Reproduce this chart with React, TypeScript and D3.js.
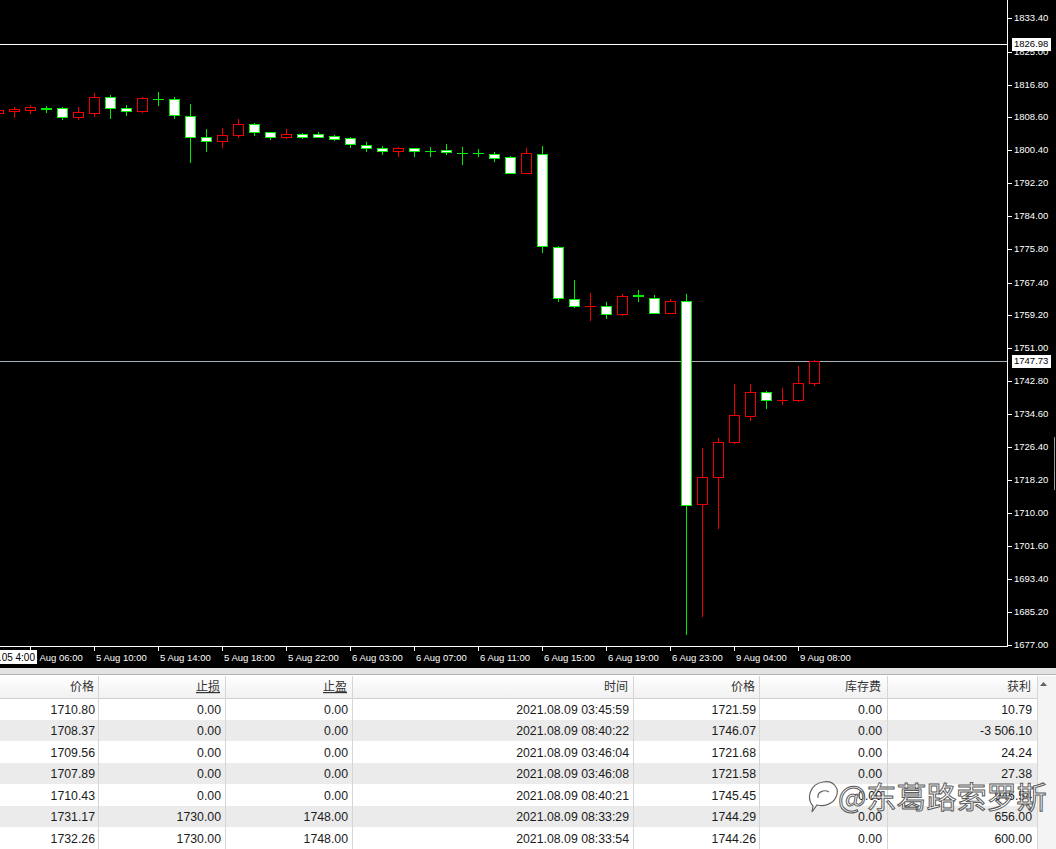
import React from 'react';
import * as d3 from 'd3';

// ---- Candle data (H1 bars, 5 Aug 2021 04:00 .. 9 Aug 2021 09:00) ----
const opens = [1809.7, 1810.1, 1810.4, 1810.85, 1810.9, 1808.6, 1809.6, 1813.6, 1810.9, 1810.2, 1813.2, 1813.1, 1809.0, 1803.6, 1802.7, 1804.2, 1807.0, 1804.9, 1803.6, 1804.5, 1804.5, 1804.0, 1803.4, 1801.6, 1800.9, 1800.2, 1800.9, 1800.3, 1800.5, 1799.85, 1799.8, 1799.6, 1798.7, 1794.8, 1799.6, 1776.4, 1763.4, 1761.6, 1761.6, 1759.5, 1764.2, 1763.5, 1759.9, 1762.9, 1712.1, 1718.8, 1727.6, 1734.2, 1740.0, 1738.0, 1738.1, 1742.3];
const highs = [1810.6, 1811.2, 1811.7, 1811.5, 1811.2, 1811.2, 1814.8, 1814.2, 1811.7, 1813.6, 1814.9, 1813.8, 1811.9, 1805.6, 1805.9, 1808.1, 1807.3, 1805.0, 1805.6, 1804.8, 1805.0, 1804.2, 1803.8, 1802.5, 1801.5, 1801.3, 1801.0, 1801.1, 1802.0, 1801.3, 1800.6, 1799.9, 1799.0, 1801.0, 1801.5, 1776.5, 1768.0, 1764.9, 1762.6, 1764.6, 1765.6, 1764.3, 1763.2, 1764.6, 1726.1, 1728.6, 1742.1, 1742.1, 1740.4, 1741.0, 1746.6, 1748.0];
const lows = [1809.5, 1808.7, 1809.7, 1810.0, 1808.3, 1808.3, 1809.0, 1808.4, 1809.2, 1809.9, 1811.7, 1808.4, 1797.6, 1800.3, 1801.3, 1803.6, 1804.2, 1803.1, 1803.4, 1803.4, 1803.6, 1803.0, 1801.3, 1800.1, 1799.6, 1799.1, 1799.1, 1799.0, 1799.6, 1797.1, 1799.0, 1797.8, 1794.7, 1794.7, 1775.1, 1762.9, 1761.4, 1758.1, 1758.5, 1759.3, 1762.9, 1759.7, 1759.7, 1679.8, 1684.2, 1706.1, 1727.5, 1733.1, 1736.0, 1737.1, 1737.9, 1741.9];
const closes = [1810.4, 1810.6, 1811.1, 1810.8, 1808.6, 1809.9, 1813.8, 1810.9, 1810.3, 1813.4, 1813.15, 1809.2, 1803.6, 1802.8, 1804.2, 1807.0, 1804.9, 1803.6, 1804.5, 1803.8, 1803.8, 1803.3, 1802.0, 1800.9, 1800.3, 1800.9, 1800.3, 1800.25, 1799.9, 1799.8, 1799.75, 1798.6, 1794.8, 1799.8, 1776.5, 1763.5, 1761.6, 1761.65, 1759.6, 1764.1, 1764.15, 1759.9, 1762.9, 1712.0, 1718.8, 1727.6, 1734.4, 1740.0, 1738.1, 1738.15, 1742.3, 1747.73];

// ---- Axis labels ----
const xTickIndex = [2, 6, 10, 14, 18, 22, 26, 30, 34, 38, 42, 46, 50];
const xTickLabels = ['5 Aug 06:00', '5 Aug 10:00', '5 Aug 14:00', '5 Aug 18:00', '5 Aug 22:00', '6 Aug 03:00', '6 Aug 07:00', '6 Aug 11:00', '6 Aug 15:00', '6 Aug 19:00', '6 Aug 23:00', '9 Aug 04:00', '9 Aug 08:00'];
const firstBarLabel = '2021.08.05 4:00';
const yTickValues = [1833.40, 1825.00, 1816.80, 1808.60, 1800.40, 1792.20, 1784.00, 1775.80, 1767.40, 1759.20, 1751.00, 1742.80, 1734.60, 1726.40, 1718.20, 1710.00, 1701.60, 1693.40, 1685.20, 1677.00];
const levelLine = 1826.98;
const bidLine = 1747.73;

// ---- Table data ----
const tableHeaders = ['价格', '止损', '止盈', '时间', '价格', '库存费', '获利'];
const openPrices = ['1710.80', '1708.37', '1709.56', '1707.89', '1710.43', '1731.17', '1732.26'];
const stopLosses = ['0.00', '0.00', '0.00', '0.00', '0.00', '1730.00', '1730.00'];
const takeProfits = ['0.00', '0.00', '0.00', '0.00', '0.00', '1748.00', '1748.00'];
const closeTimes = ['2021.08.09 03:45:59', '2021.08.09 08:40:22', '2021.08.09 03:46:04', '2021.08.09 03:46:08', '2021.08.09 08:40:21', '2021.08.09 08:33:29', '2021.08.09 08:33:54'];
const closePrices = ['1721.59', '1746.07', '1721.68', '1721.58', '1745.45', '1744.29', '1744.26'];
const swaps = ['0.00', '0.00', '0.00', '0.00', '0.00', '0.00', '0.00'];
const profits = ['10.79', '-3 506.10', '24.24', '27.38', '945.54', '656.00', '600.00'];
const watermark = '@东葛路索罗斯';

const W = 1056;
const H = 849;
const AXIS_X = 1007;
const AXIS_Y = 646;
const BULL = '#f00000';
const BEAR = '#00ee00';
const AXIS_FONT = '"Liberation Sans", Arial, sans-serif';
const TABLE_FONT = '"Liberation Sans", "Noto Sans CJK SC", sans-serif';

export default function App() {
  const yScale = d3.scaleLinear().domain([1677, 1833.4]).range([645, 18]);
  const xScale = d3.scaleLinear().domain([0, 51]).range([-2, 814]);

  const candles = opens.map((o, i) => {
    const c = closes[i];
    const cx = Math.round(xScale(i));
    const yH = Math.round(yScale(highs[i]));
    const yL = Math.round(yScale(lows[i]));
    const yTop = Math.round(yScale(Math.max(o, c)));
    const yBot = Math.round(yScale(Math.min(o, c)));
    const bear = c < o;
    const color = bear ? BEAR : BULL;
    const bodyH = yBot - yTop;
    return (
      <g key={i}>
        <line x1={cx + 0.5} x2={cx + 0.5} y1={yH} y2={yL + 1} stroke={color} strokeWidth={1} />
        {bodyH < 1 ? (
          <line x1={cx - 5} x2={cx + 6} y1={yTop + 0.5} y2={yTop + 0.5} stroke={color} strokeWidth={1} />
        ) : (
          <rect x={cx - 4.5} y={yTop + 0.5} width={10} height={bodyH} fill={bear ? '#ffffff' : '#000000'} stroke={color} strokeWidth={1} />
        )}
      </g>
    );
  });

  const colBorders = [98, 225, 352, 633, 759, 887, 1037];
  const colRight = [95, 221, 348, 629, 756, 882, 1032];
  const headTop = 675;
  const headBot = 698;
  const rowH = 21.5;
  const columns = [openPrices, stopLosses, takeProfits, closeTimes, closePrices, swaps, profits];

  return (
    <div style={{ position: 'absolute', left: 0, top: 0 }}>
      <svg width={W} height={H} style={{ display: 'block' }} shapeRendering="crispEdges">
        <defs>
          <clipPath id="firstBox">
            <rect x={0} y={650} width={36} height={14} />
          </clipPath>
          <linearGradient id="hdr" x1="0" y1="0" x2="0" y2="1">
            <stop offset="0" stopColor="#ffffff" />
            <stop offset="1" stopColor="#f1f1f1" />
          </linearGradient>
        </defs>

        {/* chart background */}
        <rect x={0} y={0} width={W} height={668} fill="#000000" />

        {/* horizontal level lines */}
        <line x1={0} x2={AXIS_X} y1={Math.round(yScale(levelLine)) + 0.5} y2={Math.round(yScale(levelLine)) + 0.5} stroke="#ffffff" />
        <line x1={0} x2={AXIS_X} y1={Math.round(yScale(bidLine)) + 0.5} y2={Math.round(yScale(bidLine)) + 0.5} stroke="#a8b0b8" />

        {candles}

        {/* axes */}
        <line x1={AXIS_X + 0.5} x2={AXIS_X + 0.5} y1={0} y2={AXIS_Y + 1} stroke="#ffffff" />
        <line x1={0} x2={AXIS_X + 1} y1={AXIS_Y + 0.5} y2={AXIS_Y + 0.5} stroke="#ffffff" />

        {yTickValues.map((v, i) => {
          const y = Math.round(yScale(v));
          return (
            <g key={'yt' + i}>
              <line x1={AXIS_X + 1} x2={AXIS_X + 5} y1={y + 0.5} y2={y + 0.5} stroke="#ffffff" />
              <text x={1014} y={y} dy="0.35em" fill="#ffffff" fontSize={9.5} fontFamily={AXIS_FONT}>
                {v.toFixed(2)}
              </text>
            </g>
          );
        })}

        {xTickIndex.map((idx, i) => {
          const x = Math.round(xScale(idx));
          return (
            <g key={'xt' + i}>
              <line x1={x + 0.5} x2={x + 0.5} y1={AXIS_Y} y2={AXIS_Y + 5} stroke="#ffffff" />
              <text x={x + 2} y={661} fill="#ffffff" fontSize={9.5} fontFamily={AXIS_FONT}>
                {xTickLabels[i]}
              </text>
            </g>
          );
        })}

        {/* first bar time label box */}
        <rect x={0} y={650} width={37} height={14} fill="#ffffff" />
        <text x={35} y={661} textAnchor="end" fill="#000000" fontSize={10} fontFamily={AXIS_FONT} clipPath="url(#firstBox)">
          {firstBarLabel}
        </text>

        {/* price labels */}
        {[levelLine, bidLine].map((v, i) => {
          const y = Math.round(yScale(v));
          return (
            <g key={'pl' + i}>
              <rect x={1012} y={y - 6} width={39} height={13} fill="#ffffff" />
              <text x={1014} y={y} dy="0.35em" fill="#000000" fontSize={9.5} fontFamily={AXIS_FONT}>
                {v.toFixed(2)}
              </text>
            </g>
          );
        })}

        <line x1={1054.5} x2={1054.5} y1={437} y2={490} stroke="#9a9a9a" />

        {/* separator band */}
        <rect x={0} y={668} width={W} height={7} fill="#e2e2e2" />
        <line x1={0} x2={W} y1={674.5} y2={674.5} stroke="#b4b4b4" />

        {/* table header */}
        <rect x={0} y={headTop} width={W} height={headBot - headTop} fill="url(#hdr)" />
        {tableHeaders.map((h, i) => (
          <text key={'h' + i} x={colRight[i] - 1} y={691} textAnchor="end" fontSize={12} fill="#333333" fontFamily={TABLE_FONT}
            textDecoration={i === 1 || i === 2 ? 'underline' : undefined}>
            {h}
          </text>
        ))}

        {/* rows */}
        {openPrices.map((_, r) => {
          const top = headBot + r * rowH;
          return (
            <g key={'r' + r}>
              <rect x={0} y={top} width={1037} height={rowH} fill={r % 2 === 1 ? '#ebebeb' : '#ffffff'} />
              <line x1={0} x2={1037} y1={Math.round(top + rowH) + 0.5} y2={Math.round(top + rowH) + 0.5} stroke="#d0d0d0" />
              {columns.map((col, c) => (
                <text key={c} x={colRight[c]} y={top + 15.5} textAnchor="end" fontSize={12.3} fill="#1a1a1a" fontFamily={TABLE_FONT}>
                  {col[r]}
                </text>
              ))}
            </g>
          );
        })}
        <line x1={0} x2={1037} y1={headBot + 0.5} y2={headBot + 0.5} stroke="#d0d0d0" />
        {colBorders.map((x, i) => (
          <line key={'cb' + i} x1={x + 0.5} x2={x + 0.5} y1={headTop + 1} y2={H} stroke="#d6d6d6" />
        ))}

        {/* scrollbar */}
        <rect x={1038} y={headTop + 1} width={18} height={H - headTop} fill="#f4f4f4" />
        <path d="M1040,686 L1043.5,682 L1047,686 Z" fill="#606060" shapeRendering="auto" />

        {/* watermark */}
        <g shapeRendering="auto" opacity={0.9}>
          <path d="M813,806 C806,798 810,784 823,782 C834,780 840,789 836,797 C833,804 824,807 817,805 L812,812 Z"
            fill="rgba(255,255,255,0.6)" stroke="#555555" strokeWidth={1.2} />
          <path d="M818,798 C817,792 824,789 829,792" fill="none" stroke="#555555" strokeWidth={1.2} />
          <text x={838} y={808} fontSize={30} fontFamily='"Noto Sans CJK SC", sans-serif' fill="rgba(255,255,255,0.75)" stroke="#4a4a4a" strokeWidth={1}>
            {watermark}
          </text>
        </g>
      </svg>
    </div>
  );
}
